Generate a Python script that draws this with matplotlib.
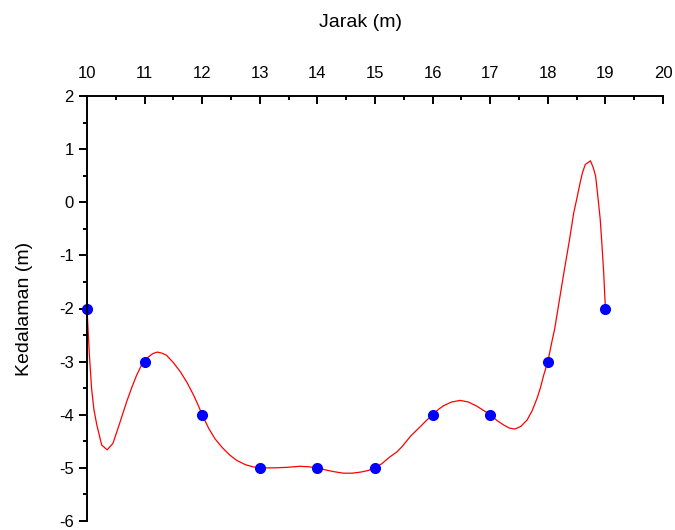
import matplotlib
matplotlib.use('Agg')
import matplotlib.pyplot as plt
from matplotlib.ticker import MultipleLocator

plt.rcParams['font.family'] = ['Liberation Sans', 'DejaVu Sans']
plt.rcParams['axes.unicode_minus'] = False

# measured points
jarak = [10, 11, 12, 13, 14, 15, 16, 17, 18, 19]
kedalaman = [-2, -3, -4, -5, -5, -5, -4, -4, -3, -2]

# smoothed curve
curve_x = [10.00, 10.04, 10.08, 10.12, 10.17, 10.255, 10.35, 10.45, 10.54, 10.63,
           10.69, 10.78, 10.86, 10.98, 11.07, 11.14, 11.22, 11.30, 11.38, 11.50,
           11.62, 11.74, 11.85, 11.93, 12.00, 12.11, 12.22, 12.35, 12.48, 12.60,
           12.75, 12.88, 13.00, 13.25, 13.47, 13.70, 13.85, 14.00, 14.15, 14.28,
           14.45, 14.60, 14.75, 14.88, 15.00, 15.12, 15.25, 15.38, 15.47, 15.62,
           15.79, 15.90, 16.00, 16.10, 16.19, 16.33, 16.48, 16.62, 16.77, 16.90,
           17.00, 17.12, 17.23, 17.33, 17.43, 17.53, 17.64, 17.73, 17.81, 17.87,
           17.93, 18.00, 18.07, 18.12, 18.20, 18.28, 18.37, 18.45, 18.51, 18.56,
           18.60, 18.65, 18.74, 18.79, 18.83, 18.87, 18.91, 18.94, 18.97, 19.00]
curve_y = [-2.00, -2.85, -3.51, -3.90, -4.19, -4.57, -4.66, -4.54, -4.25, -3.95,
           -3.75, -3.48, -3.26, -2.99, -2.91, -2.85, -2.82, -2.84, -2.88, -3.02,
           -3.19, -3.40, -3.63, -3.82, -4.00, -4.25, -4.45, -4.62, -4.76, -4.86,
           -4.94, -4.98, -5.00, -5.00, -4.99, -4.97, -4.98, -5.00, -5.04, -5.07,
           -5.10, -5.10, -5.08, -5.05, -5.00, -4.92, -4.80, -4.70, -4.60, -4.40,
           -4.22, -4.10, -4.00, -3.90, -3.83, -3.76, -3.73, -3.76, -3.84, -3.93,
           -4.00, -4.11, -4.19, -4.25, -4.27, -4.22, -4.10, -3.92, -3.70, -3.50,
           -3.25, -3.00, -2.63, -2.38, -1.85, -1.32, -0.75, -0.20, 0.10, 0.36,
           0.55, 0.71, 0.78, 0.65, 0.49, 0.10, -0.32, -0.80, -1.32, -2.00]

fig = plt.figure(figsize=(6.75, 5.3), dpi=100)
ax = fig.add_axes([87 / 675, 1 - 521 / 530, 576 / 675, 425 / 530])

ax.plot(curve_x, curve_y, color='#ff0000', lw=0.9, zorder=2)
ax.plot(jarak, kedalaman, 'o', color='#0000ff', ms=7, zorder=2.2, clip_on=False)

ax.set_xlim(10, 20)
ax.set_ylim(-6, 2)

ax.spines['bottom'].set_visible(False)
ax.spines['right'].set_visible(False)
for s in ('top', 'left'):
    ax.spines[s].set_linewidth(1.4)

ax.xaxis.tick_top()
ax.xaxis.set_label_position('top')
ax.xaxis.set_major_locator(MultipleLocator(1))
ax.xaxis.set_minor_locator(MultipleLocator(0.5))
ax.yaxis.set_major_locator(MultipleLocator(1))
ax.yaxis.set_minor_locator(MultipleLocator(0.5))

ax.tick_params(axis='x', which='major', direction='in', length=6, width=1.4,
               labelsize=12, pad=11)
ax.tick_params(axis='x', which='minor', direction='in', length=3, width=1.4)
ax.tick_params(axis='y', which='major', direction='out', length=6, width=1.4,
               labelsize=12, pad=3.5)
ax.tick_params(axis='y', which='minor', direction='out', length=3, width=1.4)

ax.set_xlabel('Jarak (m)', fontsize=14)
ax.xaxis.set_label_coords(0.474, 1.162)
ax.set_ylabel('Kedalaman (m)', fontsize=14)
ax.yaxis.set_label_coords(-0.094, 0.5)

fig.savefig('out.png', dpi=100)
